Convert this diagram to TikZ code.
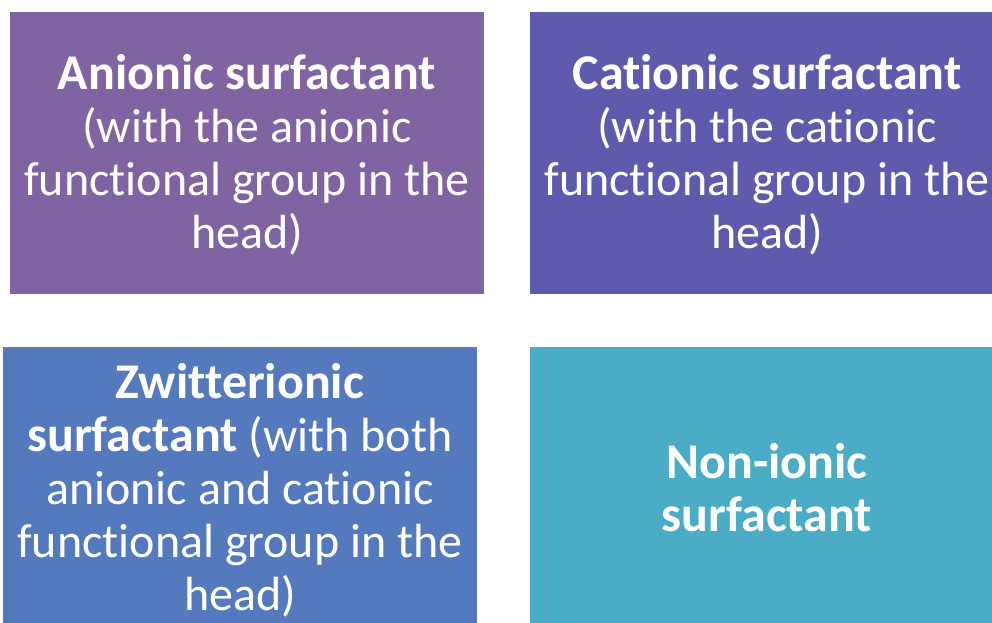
\documentclass[tikz,border=0pt]{standalone}
\usepackage{fontspec}
\setmainfont{Carlito}[RawFeature={-liga;-dlig}]
\begin{document}
\begin{tikzpicture}[x=1pt,y=-1pt,
  txt/.style={text=white,align=center,font=\fontsize{48}{53}\selectfont,inner sep=0pt}]
\useasboundingbox (0,0) rectangle (992,622);
\newcommand{\bl}[1]{{\fontsize{50}{53}\selectfont\textbf{#1}}}
\begin{scope}
\clip (0,0) rectangle (992,622);
\fill[fill={rgb,255:red,128;green,100;blue,162}] (10,12) rectangle (484,294);
\fill[fill={rgb,255:red,95;green,91;blue,172}] (530,12) rectangle (1004,294);
\fill[fill={rgb,255:red,84;green,122;blue,189}] (3,347) rectangle (477,629);
\fill[fill={rgb,255:red,75;green,172;blue,198}] (530,347) rectangle (1004,629);
\node[txt] (t1) at (247,155) {\bl{Anionic surfactant}\\(with the anionic\\functional group in the\\head)};
\node[txt] (t2) at (767,155) {\bl{Cationic surfactant}\\(with the cationic\\functional group in the\\head)};
\node[txt] (t3) at (240,490) {\bl{Zwitterionic}\\\bl{surfactant} (with both\\anionic and cationic\\functional group in the\\head)};
\node[txt] (t4) at (767,488) {\bl{Non-ionic}\\\bl{surfactant}};
\end{scope}
\end{tikzpicture}
\end{document}
